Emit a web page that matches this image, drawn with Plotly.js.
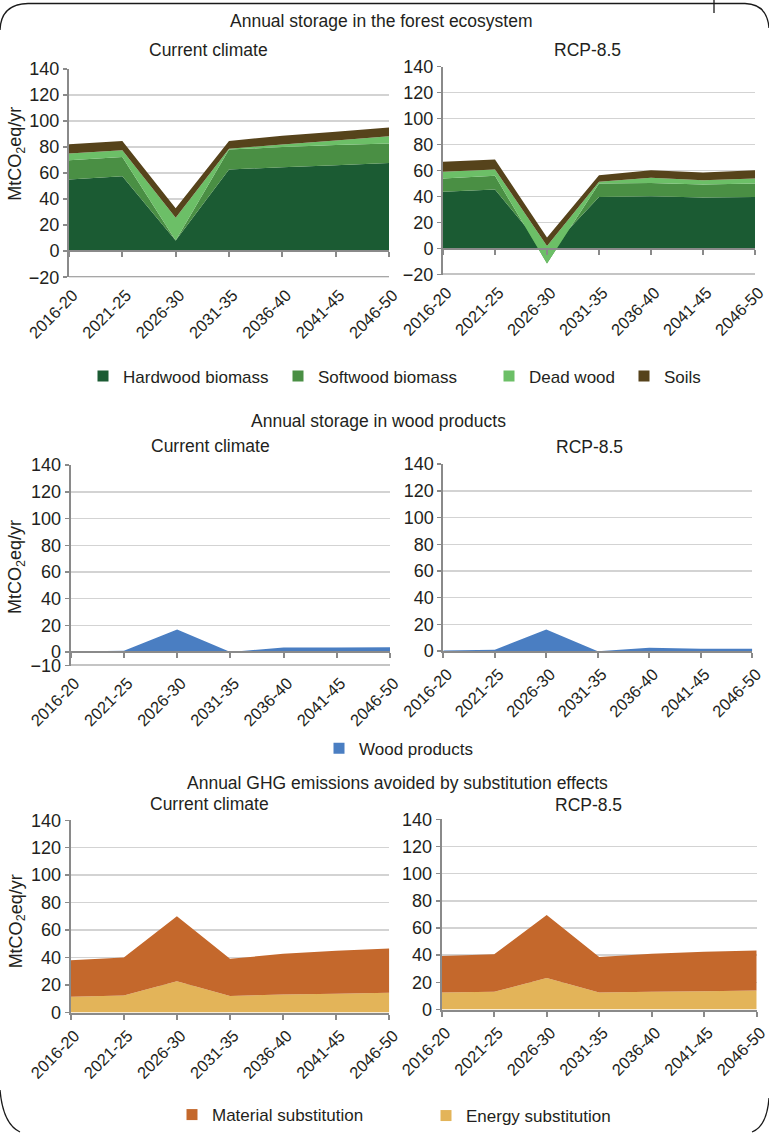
<!DOCTYPE html>
<html><head><meta charset="utf-8">
<script src="https://cdn.plot.ly/plotly-3.0.1.min.js"></script>
<style>html,body{margin:0;padding:0;background:#fff}#chart{width:769px;height:1134px}</style>
</head><body><div id="chart"></div>
<script>
// ---------- data ----------
const periods = ['2016-20','2021-25','2026-30','2031-35','2036-40','2041-45','2046-50'];

// Annual storage in the forest ecosystem (MtCO2eq/yr)
const hardwoodCurrent = [55.0, 57.5, 8.2, 62.7, 64.5, 66.0, 67.8];
const softwoodCurrent = [14.8, 14.9, 0.0, 15.3, 15.5, 15.5, 14.9];
const deadWoodCurrent = [5.2, 5.2, 17.5, 0.6, 2.0, 3.5, 5.6];
const soilsCurrent    = [7.2, 7.1, 7.3, 6.1, 6.6, 6.7, 6.7];

const hardwoodRcp = [43.6, 45.4, -3.0, 39.7, 40.3, 39.2, 39.7];
const softwoodRcp = [10.2, 10.5, -8.5, 10.3, 10.2, 10.0, 10.3];
const deadWoodRcp = [5.2, 4.9, 13.5, 1.3, 3.9, 3.4, 3.8];
const soilsRcp    = [7.7, 7.7, 6.5, 5.1, 5.9, 5.9, 6.5];

// Annual storage in wood products
const woodProductsCurrent = [0.5, 1.0, 17.0, 0.2, 3.5, 3.5, 3.7];
const woodProductsRcp     = [0.5, 1.0, 16.3, 0.0, 2.5, 1.8, 1.8];

// Annual GHG emissions avoided by substitution effects
const energyCurrent   = [11.4, 12.4, 22.8, 12.1, 13.1, 13.6, 14.3];
const materialCurrent = [26.7, 27.6, 47.3, 27.0, 29.6, 31.3, 32.3];
const energyRcp       = [12.6, 13.0, 23.2, 12.6, 13.0, 13.5, 14.0];
const materialRcp     = [26.8, 27.6, 46.4, 26.0, 28.1, 29.0, 29.5];

const ticksForest = [-20, 0, 20, 40, 60, 80, 100, 120, 140];
const ticksWoodCurrent = [-10, 0, 20, 40, 60, 80, 100, 120, 140];
const ticksPositive = [0, 20, 40, 60, 80, 100, 120, 140];

const sectionTitles = ['Annual storage in the forest ecosystem', 'Annual storage in wood products', 'Annual GHG emissions avoided by substitution effects'];
const panelTitles = ['Current climate', 'RCP-8.5'];
const yTitle = 'MtCO<sub>2</sub>eq/yr';

const colors = {
  hardwood: '#1b5b33', softwood: '#4a8f44', dead: '#6cbf67', soils: '#56431b',
  wood: '#4a7ec2', material: '#c4682c', energy: '#e3b459'
};

// ---------- layout helpers ----------
const W = 769, H = 1134;
const FONT = '"Liberation Sans", Arial, Helvetica, sans-serif';
const TXT = '#231f20';
const AX = '#8a8a8a';
const fx = p => p / W;
const fy = p => 1 - p / H;

const panels = [
  {x: [69, 389],    yt: 69,    yb: 277.7,  range: [-20, 140], ticks: ticksForest},
  {x: [443, 755],   yt: 66.7,  yb: 275,    range: [-20, 140], ticks: ticksForest},
  {x: [70.7, 390],  yt: 466,   yb: 666.7,  range: [-10, 140], ticks: ticksWoodCurrent},
  {x: [443.3, 752.3], yt: 465, yb: 652.3,  range: [0, 140],   ticks: ticksPositive},
  {x: [70.7, 389.3], yt: 821.7, yb: 1014.3, range: [0, 140],  ticks: ticksPositive},
  {x: [441.7, 756.7], yt: 820.7, yb: 1011.3, range: [0, 140], ticks: ticksPositive}
];

const layout = {
  width: W, height: H,
  margin: {l: 0, r: 0, t: 0, b: 0},
  paper_bgcolor: '#ffffff', plot_bgcolor: 'rgba(0,0,0,0)',
  font: {family: FONT, color: TXT},
  showlegend: true,
  annotations: [], shapes: []
};

panels.forEach((p, i) => {
  const n = i + 1;
  const xk = 'xaxis' + (n === 1 ? '' : n), yk = 'yaxis' + (n === 1 ? '' : n);
  const yref = 'y' + (n === 1 ? '' : n), xref = 'x' + (n === 1 ? '' : n);
  const d0 = fy(p.yb), d1 = fy(p.yt);
  const pxPerUnit = (p.yb - p.yt) / (p.range[1] - p.range[0]);
  const below = -p.range[0] * pxPerUnit;
  const xa = {
    domain: [fx(p.x[0]), fx(p.x[1])],
    type: 'category', range: [0, 6],
    showgrid: false, zeroline: false,
    showline: true, linecolor: AX, linewidth: 2,
    ticks: 'outside', ticklen: 5, tickwidth: 2, tickcolor: AX,
    tickangle: -45, tickfont: {size: 16.5, color: TXT, family: FONT},
    ticklabelshift: 4,
    fixedrange: true
  };
  if (p.range[0] < 0) {
    xa.anchor = 'free';
    xa.position = d0 + (-p.range[0]) / (p.range[1] - p.range[0]) * (d1 - d0);
    xa.ticklabelstandoff = Math.round(below) - 4;
    layout.shapes.push({type: 'line', xref: xref + ' domain', yref: yref, x0: 0, x1: 1,
      y0: p.range[0], y1: p.range[0], line: {color: AX, width: 2}, layer: 'above'});
  } else {
    xa.anchor = yref;
  }
  layout[xk] = xa;
  layout[yk] = {
    domain: [d0, d1], range: p.range, anchor: xref,
    tickmode: 'array', tickvals: p.ticks,
    showgrid: true, gridcolor: '#d3d3d3', gridwidth: 1.5,
    zeroline: false,
    showline: true, linecolor: AX, linewidth: 2,
    ticks: 'outside', ticklen: 4, tickwidth: 1.5, tickcolor: AX,
    tickfont: {size: 18, color: TXT, family: FONT},
    fixedrange: true
  };
});

// titles
const secPos = [{x: 381, y: 21}, {x: 378, y: 422}, {x: 397, y: 784}];
sectionTitles.forEach((t, i) => layout.annotations.push({
  text: t, xref: 'paper', yref: 'paper', x: fx(secPos[i].x), y: fy(secPos[i].y),
  xanchor: 'center', yanchor: 'middle', showarrow: false, font: {size: 17.5, color: TXT}
}));
const subPos = [[{x: 208, y: 50}, {x: 587, y: 50}], [{x: 210, y: 447}, {x: 589, y: 448}], [{x: 209, y: 805}, {x: 588, y: 806}]];
subPos.forEach(row => row.forEach((p, j) => layout.annotations.push({
  text: panelTitles[j], xref: 'paper', yref: 'paper', x: fx(p.x), y: fy(p.y),
  xanchor: 'center', yanchor: 'middle', showarrow: false, font: {size: 17.5, color: TXT}
})));
[154, 568, 923].forEach(yc => layout.annotations.push({
  text: yTitle, textangle: -90, xref: 'paper', yref: 'paper', x: fx(17), y: fy(yc),
  xanchor: 'center', yanchor: 'middle', showarrow: false, font: {size: 18, color: TXT}
}));

// frame
const P = (x, y) => fx(x).toFixed(5) + ',' + fy(y).toFixed(5);
const frame = [
  'M' + P(0, 30) + ' Q' + P(1, 4) + ' ' + P(28, 3.5) + ' L' + P(745, 3.5) + ' Q' + P(767, 4) + ' ' + P(769, 28),
  'M' + P(714, 0) + ' L' + P(714, 13),
  'M' + P(0, 1092) + ' Q' + P(3, 1126) + ' ' + P(20, 1134),
  'M' + P(769, 1100) + ' Q' + P(767, 1128) + ' ' + P(752, 1134)
];
frame.forEach(d => layout.shapes.push({type: 'path', xref: 'paper', yref: 'paper', path: d, line: {color: '#1a1a1a', width: 1.3}}));

// ---------- traces ----------
const traces = [];
function area(y, color, xa, ya, group) {
  traces.push({type: 'scatter', mode: 'none', x: periods, y: y, stackgroup: group,
    fillcolor: color, xaxis: xa, yaxis: ya, showlegend: false, hoverinfo: 'skip'});
}
area(hardwoodCurrent, colors.hardwood, 'x', 'y', 'f1');
area(softwoodCurrent, colors.softwood, 'x', 'y', 'f1');
area(deadWoodCurrent, colors.dead, 'x', 'y', 'f1');
area(soilsCurrent, colors.soils, 'x', 'y', 'f1');
area(hardwoodRcp, colors.hardwood, 'x2', 'y2', 'f2');
area(softwoodRcp, colors.softwood, 'x2', 'y2', 'f2');
area(deadWoodRcp, colors.dead, 'x2', 'y2', 'f2');
area(soilsRcp, colors.soils, 'x2', 'y2', 'f2');
area(woodProductsCurrent, colors.wood, 'x3', 'y3', 'w1');
area(woodProductsRcp, colors.wood, 'x4', 'y4', 'w2');
area(energyCurrent, colors.energy, 'x5', 'y5', 's1');
area(materialCurrent, colors.material, 'x5', 'y5', 's1');
area(energyRcp, colors.energy, 'x6', 'y6', 's2');
area(materialRcp, colors.material, 'x6', 'y6', 's2');

// legend entries (one legend box per item so each sits where the original puts it)
const legendItems = [
  {name: 'Hardwood biomass', color: colors.hardwood, x: 103, y: 377},
  {name: 'Softwood biomass', color: colors.softwood, x: 298, y: 377},
  {name: 'Dead wood', color: colors.dead, x: 509, y: 377},
  {name: 'Soils', color: colors.soils, x: 644, y: 377},
  {name: 'Wood products', color: colors.wood, x: 339, y: 750},
  {name: 'Material substitution', color: colors.material, x: 192, y: 1117},
  {name: 'Energy substitution', color: colors.energy, x: 446, y: 1118}
];
legendItems.forEach((it, i) => {
  const key = 'legend' + (i === 0 ? '' : i + 1);
  layout[key] = {x: fx(it.x - 20), y: fy(it.y), xanchor: 'left', yanchor: 'middle',
    bgcolor: 'rgba(0,0,0,0)', borderwidth: 0, orientation: 'h',
    font: {size: 17, color: TXT, family: FONT}};
  traces.push({type: 'scatter', mode: 'markers', x: [null], y: [null], name: it.name,
    marker: {symbol: 'square', size: 11, color: it.color}, legend: key,
    showlegend: true, xaxis: 'x', yaxis: 'y', hoverinfo: 'skip'});
});

Plotly.newPlot('chart', traces, layout, {displayModeBar: false, staticPlot: true});
</script>
</body></html>
